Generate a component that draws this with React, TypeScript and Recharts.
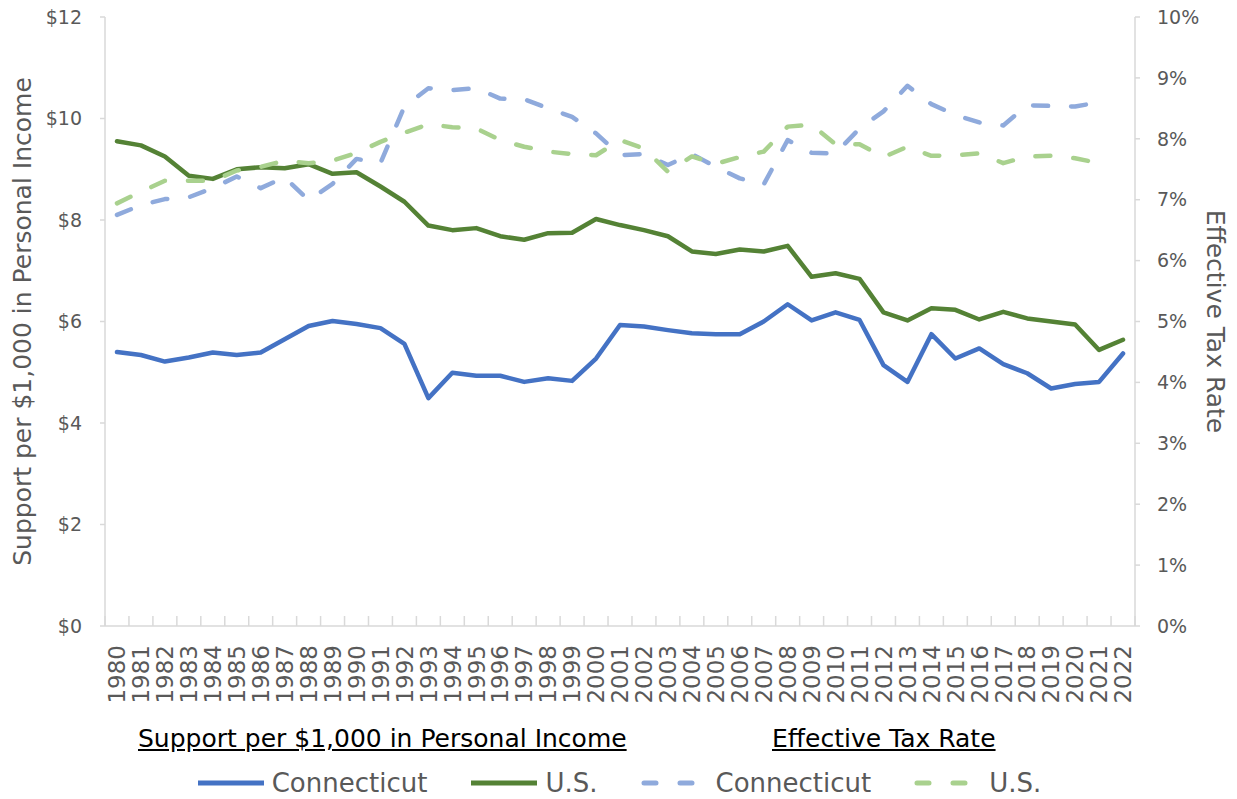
import React from 'react';
import { LineChart, Line, XAxis, YAxis, Label } from 'recharts';

const years = ['1980','1981','1982','1983','1984','1985','1986','1987','1988','1989','1990','1991','1992','1993','1994','1995','1996','1997','1998','1999','2000','2001','2002','2003','2004','2005','2006','2007','2008','2009','2010','2011','2012','2013','2014','2015','2016','2017','2018','2019','2020','2021','2022'];

const ctSupport = [5.40,5.34,5.21,5.29,5.39,5.34,5.39,5.65,5.91,6.01,5.95,5.87,5.56,4.49,4.99,4.93,4.93,4.81,4.88,4.83,5.27,5.93,5.90,5.83,5.77,5.75,5.75,6.00,6.34,6.02,6.18,6.03,5.14,4.81,5.75,5.27,5.47,5.16,4.98,4.68,4.77,4.81,5.37];
const usSupport = [9.55,9.47,9.25,8.87,8.81,9.00,9.04,9.02,9.10,8.91,8.94,8.66,8.36,7.89,7.80,7.84,7.68,7.61,7.74,7.75,8.02,7.90,7.80,7.68,7.38,7.33,7.42,7.38,7.49,6.88,6.95,6.84,6.18,6.02,6.26,6.23,6.04,6.19,6.06,6.00,5.94,5.44,5.64];
const ctRate = [6.75,6.91,7.01,7.04,7.19,7.38,7.19,7.37,6.99,7.26,7.67,7.60,8.53,8.83,8.80,8.83,8.66,8.65,8.50,8.36,8.09,7.73,7.75,7.57,7.75,7.54,7.35,7.25,7.98,7.77,7.76,8.17,8.45,8.87,8.57,8.39,8.27,8.22,8.55,8.54,8.53,8.60,null];
const usRate = [6.94,7.13,7.31,7.31,7.31,7.48,7.54,7.64,7.60,7.64,7.77,7.95,8.10,8.24,8.19,8.17,7.98,7.87,7.79,7.75,7.73,7.98,7.84,7.46,7.71,7.59,7.70,7.79,8.20,8.23,7.91,7.91,7.70,7.87,7.72,7.73,7.76,7.60,7.71,7.72,7.68,7.60,null];

const supportTicks = [0, 2, 4, 6, 8, 10, 12];
const rateTicks = [0, 1, 2, 3, 4, 5, 6, 7, 8, 9, 10];

const leftTitle = 'Support per $1,000 in Personal Income';
const rightTitle = 'Effective Tax Rate';

const series = [
  { key: 'ctSupport', name: 'Connecticut', axis: 'left', color: '#4472C4', dashed: false },
  { key: 'usSupport', name: 'U.S.', axis: 'left', color: '#548235', dashed: false },
  { key: 'ctRate', name: 'Connecticut', axis: 'right', color: '#8FAADC', dashed: true },
  { key: 'usRate', name: 'U.S.', axis: 'right', color: '#A9D18E', dashed: true },
];

const data = years.map((y, i) => ({
  year: y,
  ctSupport: ctSupport[i],
  usSupport: usSupport[i],
  ctRate: ctRate[i],
  usRate: usRate[i],
}));

const FONT = '"DejaVu Sans", sans-serif';
const TEXT = '#595959';
const AXIS = '#D9D9D9';
const W = 1237;
const H = 799;
const DASH = '15 23';

const XTick = (props: any) => {
  const { x, y, payload, index, visibleTicksCount } = props;
  const half = payload && payload.offset ? payload.offset : 12;
  const last = index === visibleTicksCount - 1;
  return (
    <g>
      <line x1={x - half} x2={x - half} y1={y} y2={y - 10} stroke={AXIS} strokeWidth={1.5} />
      {last ? <line x1={x + half} x2={x + half} y1={y} y2={y - 10} stroke={AXIS} strokeWidth={1.5} /> : null}
      <text
        x={x}
        y={y + 19}
        transform={`rotate(-90, ${x}, ${y + 19})`}
        textAnchor="end"
        dy="0.36em"
        fill={TEXT}
        fontSize={23}
        fontFamily={FONT}
      >
        {payload.value}
      </text>
    </g>
  );
};

const LegendIcon = ({ color, dashed }: { color: string; dashed: boolean }) => (
  <svg width={70} height={12} style={{ display: 'block' }}>
    {dashed ? (
      <line x1={4} x2={66} y1={6} y2={6} stroke={color} strokeWidth={5} strokeLinecap="round" strokeDasharray="12 24" />
    ) : (
      <line x1={2} x2={68} y1={6} y2={6} stroke={color} strokeWidth={5} />
    )}
  </svg>
);

export default function App() {
  return (
    <div style={{ position: 'absolute', left: 0, top: 0, width: W, height: H, background: '#fff', fontFamily: FONT }}>
      <LineChart width={W} height={H} data={data} margin={{ top: 17, right: 0, bottom: 0, left: 0 }}>
        <XAxis
          dataKey="year"
          scale="band"
          interval={0}
          height={173}
          tickSize={0}
          tickMargin={0}
          tickLine={false}
          axisLine={{ stroke: AXIS, strokeWidth: 1.5 }}
          tick={<XTick />}
        />
        <YAxis
          yAxisId="left"
          width={105}
          domain={[0, 12]}
          ticks={supportTicks}
          interval={0}
          tickFormatter={(v: number) => `$${v}`}
          tickSize={5}
          tickMargin={18}
          axisLine={{ stroke: AXIS, strokeWidth: 1.5 }}
          tickLine={{ stroke: AXIS, strokeWidth: 1.5 }}
          tick={{ fill: TEXT, fontSize: 19, fontFamily: FONT }}
        >
          <Label
            content={(p: any) => {
              const vb = p.viewBox;
              const cx = 22;
              const cy = vb.y + vb.height / 2;
              return (
                <text x={cx} y={cy} transform={`rotate(-90, ${cx}, ${cy})`} textAnchor="middle" dominantBaseline="central" fill={TEXT} fontSize={25} fontFamily={FONT}>
                  {leftTitle}
                </text>
              );
            }}
          />
        </YAxis>
        <YAxis
          yAxisId="right"
          orientation="right"
          width={102}
          domain={[0, 10]}
          ticks={rateTicks}
          interval={0}
          tickFormatter={(v: number) => `${v}%`}
          tickSize={5}
          tickMargin={17}
          axisLine={{ stroke: AXIS, strokeWidth: 1.5 }}
          tickLine={{ stroke: AXIS, strokeWidth: 1.5 }}
          tick={{ fill: TEXT, fontSize: 19, fontFamily: FONT }}
        >
          <Label
            content={(p: any) => {
              const vb = p.viewBox;
              const cx = 1215;
              const cy = vb.y + vb.height / 2;
              return (
                <text x={cx} y={cy} transform={`rotate(90, ${cx}, ${cy})`} textAnchor="middle" dominantBaseline="central" fill={TEXT} fontSize={25} fontFamily={FONT}>
                  {rightTitle}
                </text>
              );
            }}
          />
        </YAxis>
        {series.map((s) => (
          <Line
            key={s.key}
            yAxisId={s.axis}
            dataKey={s.key}
            name={s.name}
            type="linear"
            stroke={s.color}
            strokeWidth={4.5}
            strokeDasharray={s.dashed ? DASH : undefined}
            strokeLinecap="round"
            strokeLinejoin="round"
            dot={false}
            activeDot={false}
            isAnimationActive={false}
          />
        ))}
      </LineChart>
      <div style={{ position: 'absolute', left: 138, top: 723, fontSize: 25, color: '#000', textDecoration: 'underline', whiteSpace: 'nowrap', lineHeight: '32px' }}>
        {leftTitle}
      </div>
      <div style={{ position: 'absolute', left: 772, top: 723, fontSize: 25, color: '#000', textDecoration: 'underline', whiteSpace: 'nowrap', lineHeight: '32px' }}>
        {rightTitle}
      </div>
      <div style={{ position: 'absolute', left: 0, width: W, top: 766, height: 34, display: 'flex', justifyContent: 'center', alignItems: 'center' }}>
        {series.map((s, i) => (
          <div key={s.key} style={{ display: 'flex', alignItems: 'center', marginLeft: i === 0 ? 0 : 42 }}>
            <LegendIcon color={s.color} dashed={s.dashed} />
            <span style={{ fontSize: 26, color: TEXT, marginLeft: 6, whiteSpace: 'nowrap' }}>{s.name}</span>
          </div>
        ))}
      </div>
    </div>
  );
}
